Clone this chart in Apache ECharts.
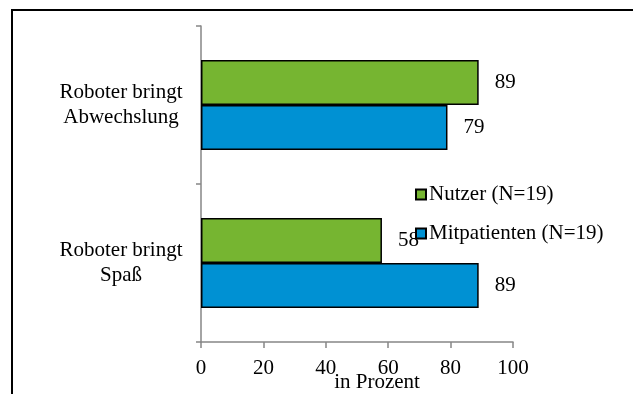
<!DOCTYPE html>
<html>
<head>
<meta charset="utf-8">
<script src="https://cdn.jsdelivr.net/npm/echarts@6/dist/echarts.min.js"></script>
<style>
  html, body { margin: 0; padding: 0; background: #fff; }
  #chart { width: 633px; height: 394px; }
</style>
</head>
<body>
<div id="chart"></div>
<script>
// Survey categories (top to bottom)
const categories = ['Roboter bringt\nAbwechslung', 'Roboter bringt\nSpaß'];
// Series names as shown in the legend
const seriesNames = ['Nutzer (N=19)', 'Mitpatienten (N=19)'];
// Percent values per series, in category order
const nutzerValues = [89, 58];
const mitpatientenValues = [79, 89];
// Value axis ticks
const xMin = 0, xMax = 100, xStep = 20;

const FONT = '"Liberation Serif", "Times New Roman", serif';
const AXIS_GRAY = '#868686';
const FS = 21;

const chart = echarts.init(document.getElementById('chart'), null, { renderer: 'canvas' });

const barLabel = {
  show: true,
  position: 'right',
  distance: 16,
  color: '#000',
  fontFamily: FONT,
  fontSize: FS
};

chart.setOption({
  animation: false,
  backgroundColor: '#fff',
  textStyle: { fontFamily: FONT, color: '#000' },
  graphic: [{
    type: 'rect',
    shape: { x: 12, y: 10, width: 700, height: 500 },
    style: { fill: 'none', stroke: '#000', lineWidth: 2 },
    silent: true
  }],
  grid: { left: 201, right: 120, top: 26, bottom: 52, outerBoundsMode: 'none', containLabel: false },
  legend: {
    orient: 'vertical',
    left: 410,
    top: 179,
    itemWidth: 10,
    itemHeight: 10,
    itemGap: 18,
    icon: 'rect',
    textStyle: { fontFamily: FONT, fontSize: FS, color: '#000', padding: [0, 0, 0, -2] },
    data: seriesNames
  },
  xAxis: {
    type: 'value',
    min: xMin,
    max: xMax,
    interval: xStep,
    name: 'in Prozent',
    nameLocation: 'middle',
    nameGap: 30,
    nameMoveOverlap: false,
    nameTextStyle: { fontFamily: FONT, fontSize: FS, color: '#000', padding: [0, 0, 0, 40] },
    axisLine: { show: true, lineStyle: { color: AXIS_GRAY, width: 1.5 } },
    axisTick: { show: true, length: 6, lineStyle: { color: AXIS_GRAY, width: 1.5 } },
    axisLabel: { fontFamily: FONT, fontSize: FS, color: '#000', margin: 16 },
    splitLine: { show: false }
  },
  yAxis: {
    type: 'category',
    inverse: true,
    data: categories,
    axisLine: { show: true, lineStyle: { color: AXIS_GRAY, width: 1.5 } },
    axisTick: { show: true, length: 5, lineStyle: { color: AXIS_GRAY, width: 1.5 } },
    axisLabel: {
      fontFamily: FONT, fontSize: FS, color: '#000',
      align: 'center', margin: 80, lineHeight: 25, padding: [6, 0, 0, 0]
    }
  },
  series: [
    {
      name: seriesNames[0],
      type: 'bar',
      data: nutzerValues,
      barWidth: 45,
      barGap: '0%',
      itemStyle: { color: '#76b531', borderColor: '#000', borderWidth: 1.5 },
      label: barLabel
    },
    {
      name: seriesNames[1],
      type: 'bar',
      data: mitpatientenValues,
      barWidth: 45,
      barGap: '0%',
      itemStyle: { color: '#0091d3', borderColor: '#000', borderWidth: 1.5 },
      label: barLabel
    }
  ]
});
</script>
</body>
</html>
